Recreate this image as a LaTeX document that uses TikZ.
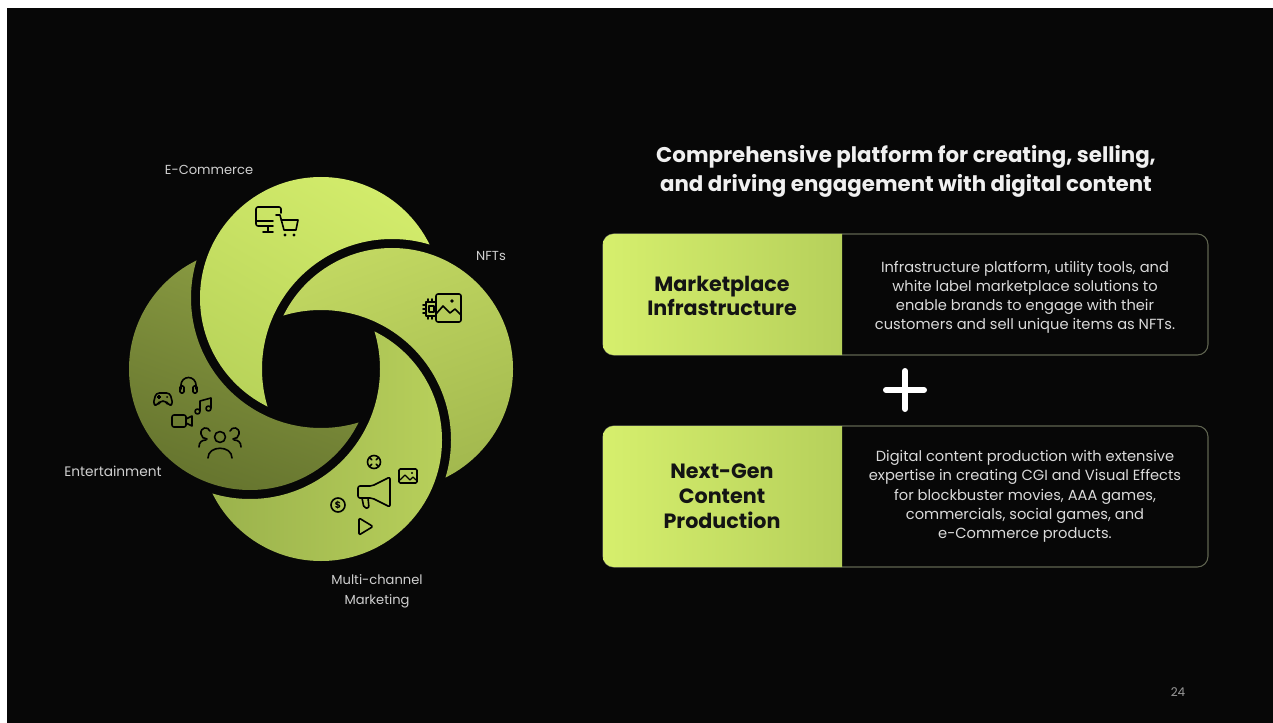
\documentclass[tikz,border=0pt]{standalone}
\usepackage{fontspec}
\setmainfont{Poppins}

\definecolor{slide}{HTML}{070707}
\definecolor{labelgray}{HTML}{CFCFCF}
\definecolor{desctext}{HTML}{DADADA}
\definecolor{pagegray}{HTML}{9A9A9A}
\definecolor{boxedge}{HTML}{5F6450}
\definecolor{boxA}{HTML}{D6EF6D}
\definecolor{boxB}{HTML}{B6D05B}
\definecolor{topA}{HTML}{D5EE6D}
\definecolor{topB}{HTML}{B3CE56}
\definecolor{rightA}{HTML}{C4DA63}
\definecolor{rightB}{HTML}{9AB049}
\definecolor{botA}{HTML}{B8D05B}
\definecolor{botB}{HTML}{8FA646}
\definecolor{leftA}{HTML}{9BAE4B}
\definecolor{leftB}{HTML}{67762F}

\begin{document}
\begin{tikzpicture}[x=0.75pt,y=0.75pt,yscale=-1,xscale=1,
	lbl/.style={inner sep=0.75pt, text=labelgray, font=\fontsize{9.8}{15}\selectfont, align=center},
	hdr/.style={inner sep=0.75pt, text=black!92, font=\bfseries\fontsize{15.5}{18.6}\selectfont, align=center},
	desc/.style={inner sep=0.75pt, text=desctext, font=\fontsize{11}{14.4}\selectfont, align=center},
	ico/.style={draw=black, line width=1.2pt, line cap=round, line join=round},
	boxline/.style={draw=boxedge, line width=0.8pt, rounded corners=8},
	]

	%Shape: Background
	\fill [white] (0,0) rectangle (1273,723);
	\fill [slide] (7,8) rectangle (1273,723);

	% petal circles
	\coordinate (pT) at (321,298);
	\coordinate (pR) at (392,369);
	\coordinate (pB) at (321,440);
	\coordinate (pL) at (250,369);

	%Shape: Petal [top]
	\begin{scope}
		\clip (pT) circle (121);
		\shade [even odd rule, top color=topA, bottom color=topB, shading angle=-30] (195,172) rectangle (447,424) (pR) circle (130);
	\end{scope}
	%Shape: Petal [right]
	\begin{scope}
		\clip (pR) circle (121);
		\shade [even odd rule, top color=rightA, bottom color=rightB, shading angle=20] (266,243) rectangle (518,495) (pB) circle (130);
	\end{scope}
	%Shape: Petal [bottom]
	\begin{scope}
		\clip (pB) circle (121);
		\shade [even odd rule, left color=botB, right color=botA] (195,314) rectangle (447,566) (pL) circle (130);
	\end{scope}
	%Shape: Petal [left]
	\begin{scope}
		\clip (pL) circle (121);
		\shade [even odd rule, left color=leftA, right color=leftB, shading angle=-20] (124,243) rectangle (376,495) (pT) circle (130);
	\end{scope}

	%Icon: monitor and cart
	\draw [ico, rounded corners=1.5] (273,226) -- (256,226) -- (256,207) -- (281,207) -- (281,213) ;
	\draw [ico] (256,221) -- (273,221) ;
	\draw [ico] (268,226) -- (268,232) (263,232) -- (273,232) ;
	\draw [ico] (276,215) -- (280,215) -- (284,230) -- (296,230) -- (298,220) -- (281,220) ;
	\fill (285,235) circle (1.6) (294,235) circle (1.6) ;

	%Icon: chip and picture
	\draw [ico, rounded corners=1.5] (436,294) rectangle (461,322) ;
	\draw [ico] (436,314) -- (443,306) -- (450,313) -- (455,309) -- (461,315) ;
	\fill (452,301) circle (1.9) ;
	\draw [ico] (436,302) -- (426,302) -- (426,316) -- (436,316) ;
	\draw [ico] (429,306) rectangle (434,312) ;
	\draw [ico] (428,302) -- (428,299) (432,302) -- (432,299) (428,316) -- (428,319) (432,316) -- (432,319) ;
	\draw [ico] (426,305) -- (423,305) (426,309) -- (423,309) (426,313) -- (423,313) ;

	%Icon: gamepad
	\draw [ico, rounded corners=2.5] (156,393) -- (170,393) -- (173,405) -- (168,405) -- (166,401) -- (160,401) -- (158,405) -- (153,405) -- cycle ;
	\draw [line width=0.9pt] (157,397) -- (161,397) (159,395) -- (159,399) ;
	\fill (167,397) circle (1) ;
	%Icon: headphones
	\draw [ico] (181,389) -- (181,385) arc (180:360:7.5) -- (196,389) ;
	\draw [ico, rounded corners=1] (180,386) rectangle (184,393) (193,386) rectangle (197,393) ;
	%Icon: music note
	\draw [ico] (200,411) -- (200,401) -- (211,398) -- (211,408) ;
	\draw [ico] (197.5,411.5) circle (2.5) (208.5,408.5) circle (2.5) ;
	%Icon: video camera
	\draw [ico, rounded corners=1.5] (172,415) rectangle (186,427) ;
	\draw [ico] (186,419) -- (192,416) -- (192,426) -- (186,423) ;
	%Icon: people
	\draw [ico] (220,437) circle (5.5) ;
	\draw [ico] (208,458) .. controls (208,445) and (232,445) .. (232,458) ;
	\draw [ico] (210,431) .. controls (208,426) and (200,427) .. (201,434) .. controls (201,437) and (204,439) .. (207,439) ;
	\draw [ico] (199,447) .. controls (199,442) and (202,440) .. (206,440) ;
	\draw [ico] (230,431) .. controls (232,426) and (240,427) .. (239,434) .. controls (239,437) and (236,439) .. (233,439) ;
	\draw [ico] (241,447) .. controls (241,442) and (238,440) .. (234,440) ;

	%Icon: crosshair
	\draw [ico] (374,462) circle (6.5) ;
	\foreach \a in {45,135,225,315}
		\draw [ico] (374,462) ++(\a:3.2) -- ++(\a:3.3) ;
	%Icon: picture
	\draw [ico, rounded corners=1] (399,469) rectangle (417,483) ;
	\draw [ico, line width=0.9pt] (400,480) -- (405,475) -- (410,480) -- (413,477) -- (416,480) ;
	\fill (412,473) circle (1.2) ;
	%Icon: megaphone
	\draw [ico, rounded corners=1.5] (372,486) -- (390,477) -- (390,507) -- (372,498) -- (358,498) -- (358,486) -- cycle ;
	\draw [ico, rounded corners=1.5] (362,498) -- (364,508) -- (369,508) -- (368,498) ;
	%Icon: coin
	\draw [ico] (338,505) circle (7) ;
	\draw (338,505) node [inner sep=0pt] [font=\bfseries\fontsize{7}{7}\selectfont] {\$};
	%Icon: play
	\draw [ico, rounded corners=1] (359,518) -- (373,526.5) -- (359,535) -- cycle ;

	% Text Node
	\draw (209,170) node (ecom) [lbl] {E-Commerce};
	% Text Node
	\draw (491,256) node (nft) [lbl] {NFTs};
	% Text Node
	\draw (113,471) node (ent) [lbl, font=\fontsize{10.3}{15}\selectfont] {Entertainment};
	% Text Node
	\draw (377,591) node (mkt) [lbl] {Multi-channel\\Marketing};

	% Text Node
	\draw (906,171.5) node (title) [inner sep=0.75pt, text=white!94!black, font=\bfseries\fontsize{16}{21.75}\selectfont, align=center] {Comprehensive platform for creating, selling,\\and driving engagement with digital content};

	%Shape: Box [marketplace]
	\draw [boxline] (603,234) rectangle (1208,355) ;
	\shade [left color=boxA, right color=boxB] (842,234) [rounded corners=8] -- (603,234) -- (603,355) [sharp corners] -- (842,355) -- cycle ;
	% Text Node
	\draw (722,296) node (mpHead) [hdr] {Marketplace\\Infrastructure};
	% Text Node
	\draw (1025,297.5) node (mpText) [desc] {Infrastructure platform, utility tools, and\\white label marketplace solutions to\\enable brands to engage with their\\customers and sell unique items as NFTs.};

	%Shape: Plus
	\draw [white, line width=4.5pt, line cap=round] (886,390) -- (924,390) (905,371) -- (905,409) ;

	%Shape: Box [content]
	\draw [boxline] (603,426) rectangle (1208,567) ;
	\shade [left color=boxA, right color=boxB] (842,426) [rounded corners=8] -- (603,426) -- (603,567) [sharp corners] -- (842,567) -- cycle ;
	% Text Node
	\draw (722,496) node (cpHead) [hdr, font=\bfseries\fontsize{15.5}{18.9}\selectfont] {Next-Gen\\Content\\Production};
	% Text Node
	\draw (1025,496.5) node (cpText) [desc] {Digital content production with extensive\\expertise in creating CGI and Visual Effects\\for blockbuster movies, AAA games,\\commercials, social games, and\\e-Commerce products.};

	% Text Node
	\draw (1178,692) node (page) [inner sep=0.75pt, text=pagegray, font=\fontsize{9}{11}\selectfont] {24};

\end{tikzpicture}
\end{document}
